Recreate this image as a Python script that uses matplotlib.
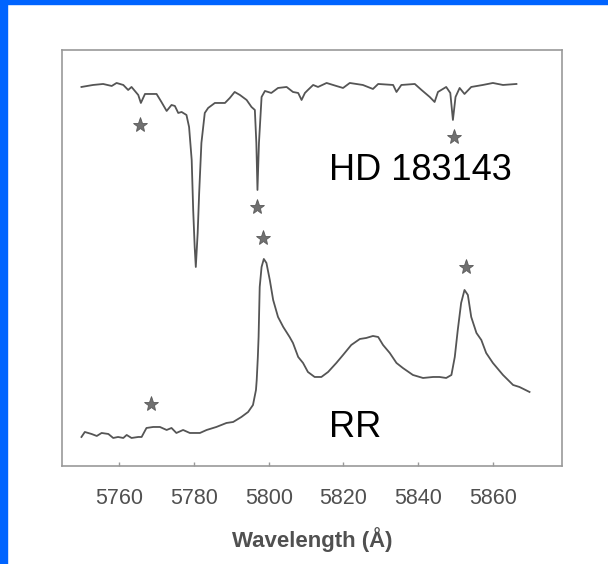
import numpy as np
import matplotlib
matplotlib.use("Agg")
import matplotlib.pyplot as plt
from matplotlib.patches import Rectangle

plt.rcParams['font.family'] = ['Liberation Sans', 'DejaVu Sans']

# HD 183143 (absorption spectrum, arbitrary flux units)
wl_hd = [5749.9, 5753.0, 5755.7, 5758.0, 5759.3, 5761.1, 5762.4, 5763.3, 5765.1, 5765.8,
         5766.9, 5770.0, 5771.3, 5772.7, 5774.0, 5774.9, 5775.8, 5776.7, 5778.0, 5778.7,
         5779.4, 5779.8, 5780.2, 5780.5, 5781.0, 5781.4, 5782.0, 5782.9, 5783.8, 5785.6,
         5788.3, 5789.6, 5790.9, 5792.3, 5794.1, 5795.4, 5796.3, 5796.7, 5797.0, 5797.4,
         5798.1, 5799.0, 5800.7, 5802.5, 5804.8, 5806.5, 5807.9, 5808.8, 5809.7, 5810.5,
         5811.9, 5813.2, 5815.5, 5818.1, 5819.9, 5821.7, 5825.2, 5827.9, 5829.3, 5833.3,
         5834.2, 5835.5, 5839.1, 5840.9, 5843.1, 5844.4, 5845.3, 5847.5, 5848.6, 5849.3,
         5850.0, 5851.1, 5852.4, 5854.2, 5857.3, 5860.0, 5862.7, 5866.3]
fl_hd = [3.79, 3.81, 3.82, 3.80, 3.83, 3.81, 3.76, 3.79, 3.71, 3.63,
         3.72, 3.72, 3.64, 3.55, 3.61, 3.60, 3.53, 3.54, 3.51, 3.39,
         3.06, 2.56, 2.19, 1.99, 2.33, 2.73, 3.23, 3.53, 3.58, 3.63,
         3.63, 3.68, 3.74, 3.71, 3.66, 3.59, 3.56, 3.23, 2.76, 3.23,
         3.69, 3.75, 3.73, 3.78, 3.79, 3.74, 3.73, 3.66, 3.73, 3.76,
         3.81, 3.79, 3.83, 3.80, 3.78, 3.83, 3.81, 3.77, 3.82, 3.81,
         3.74, 3.81, 3.82, 3.76, 3.69, 3.64, 3.74, 3.79, 3.73, 3.46,
         3.69, 3.78, 3.72, 3.79, 3.81, 3.83, 3.81, 3.82]

# Red Rectangle (emission spectrum)
wl_rr = [5749.9, 5750.8, 5752.6, 5754.0, 5755.3, 5757.1, 5758.4, 5759.7, 5761.1, 5762.0,
         5763.3, 5765.1, 5766.0, 5767.3, 5769.1, 5770.9, 5772.7, 5774.0, 5775.3, 5777.1,
         5778.9, 5781.6, 5783.4, 5786.0, 5788.7, 5790.5, 5792.7, 5794.5, 5795.8, 5796.6,
         5796.8, 5797.1, 5797.3, 5797.6, 5798.1, 5798.7, 5799.4, 5800.3, 5801.2, 5802.5,
         5803.9, 5805.6, 5806.5, 5807.9, 5809.2, 5810.5, 5812.3, 5814.1, 5815.9, 5818.1,
         5819.9, 5822.1, 5824.4, 5826.1, 5827.9, 5829.3, 5830.6, 5832.4, 5834.2, 5835.9,
         5838.6, 5841.3, 5844.0, 5845.7, 5847.5, 5848.9, 5849.8, 5850.6, 5851.5, 5852.4,
         5853.3, 5854.2, 5855.6, 5856.9, 5858.2, 5860.0, 5862.7, 5865.4, 5867.1, 5869.8]
fl_rr = [0.29, 0.34, 0.32, 0.30, 0.33, 0.32, 0.28, 0.29, 0.28, 0.31,
         0.28, 0.29, 0.29, 0.38, 0.39, 0.39, 0.36, 0.38, 0.33, 0.36,
         0.33, 0.33, 0.36, 0.39, 0.43, 0.44, 0.49, 0.54, 0.61, 0.76,
         0.86, 1.09, 1.29, 1.79, 1.99, 2.07, 2.03, 1.86, 1.66, 1.49,
         1.39, 1.29, 1.23, 1.09, 1.03, 0.94, 0.89, 0.89, 0.94, 1.03,
         1.11, 1.21, 1.27, 1.28, 1.30, 1.29, 1.21, 1.13, 1.03, 0.98,
         0.91, 0.88, 0.89, 0.89, 0.88, 0.91, 1.09, 1.36, 1.63, 1.76,
         1.71, 1.49, 1.33, 1.26, 1.13, 1.03, 0.91, 0.81, 0.79, 0.74]

# star markers for the DIB features
star_wl = [5765.5, 5849.5, 5796.9, 5798.5, 5768.4, 5852.7]
star_fl = [3.41, 3.29, 2.59, 2.28, 0.62, 1.99]

xticks = [5760, 5780, 5800, 5820, 5840, 5860]

fig = plt.figure(figsize=(6.08, 5.64), dpi=100)
ax = fig.add_axes([0.102, 0.1738, 0.8224, 0.7376])

ax.plot(wl_hd, fl_hd, color='#555555', lw=1.3)
ax.plot(wl_rr, fl_rr, color='#555555', lw=1.3)
ax.plot(star_wl, star_fl, ls='none', marker='*', ms=11, color='#707070',
        markeredgecolor='#5a5a5a', markeredgewidth=0.6)

ax.text(5816.1, 2.95, 'HD 183143', fontsize=26, va='center', ha='left', color='black')
ax.text(5816.1, 0.38, 'RR', fontsize=26, va='center', ha='left', color='black')

ax.set_xlim(5744.7, 5878.5)
ax.set_ylim(0, 4.16)
ax.set_xticks(xticks)
ax.set_yticks([])
ax.tick_params(axis='x', direction='in', length=3, width=1, color='#999999',
               labelsize=15.5, labelcolor='#505050', pad=16)
for s in ax.spines.values():
    s.set_color('#999999')
    s.set_linewidth(1.2)

ax.set_xlabel('Wavelength (Å)', fontsize=16, fontweight='bold', color='#505050', labelpad=13)

# blue frame strips on the left and top
fig.patches.append(Rectangle((0, 0), 7.3 / 608, 1, transform=fig.transFigure,
                             color='#0064ff', zorder=10))
fig.patches.append(Rectangle((0, 1 - 4 / 564), 1, 4 / 564, transform=fig.transFigure,
                             color='#0064ff', zorder=10))

fig.savefig('out.png', dpi=100)
